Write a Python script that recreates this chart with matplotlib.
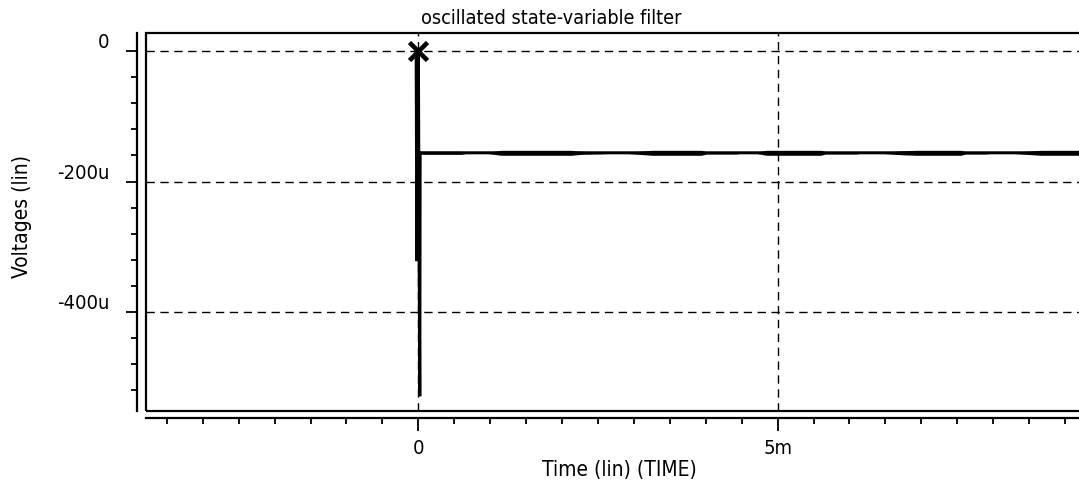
import numpy as np
import matplotlib
matplotlib.use('Agg')
import matplotlib.pyplot as plt
from matplotlib.patches import Rectangle
from matplotlib.ticker import FixedLocator, MultipleLocator

plt.rcParams['font.family'] = ['DejaVu Sans']
plt.rcParams['font.stretch'] = 'condensed'

# transient at t = 0 (time in ms, voltage in uV)
spike_t = [-0.03, -0.02, 0.0, 0.02, 0.025, 0.05, 9.4]
spike_v = [0, -322, 0, -529, -156, -156, -156]

# ripple envelope after settling (half-amplitude in uV)
env_t = [0.05, 0.60, 0.67, 0.95, 1.15, 2.13, 2.27, 2.55, 2.69, 2.88, 3.25, 3.94, 4.01,
         4.42, 4.49, 4.70, 4.84, 5.60, 5.67, 6.09, 6.16, 6.44, 6.72, 6.93, 7.55, 7.62,
         7.90, 7.97, 8.25, 8.66, 9.4]
env_a = [2.3, 2.3, 0.8, 0.8, 3.8, 3.8, 2.3, 1.5, 0.8, 0.8, 3.8, 3.8, 1.8,
         1.8, 0.8, 0.8, 3.8, 3.8, 1.8, 1.8, 0.8, 0.8, 3.0, 3.8, 3.8, 1.8,
         1.8, 0.8, 0.8, 3.8, 3.8]
baseline = -156

yticks = [0, -200, -400]
ytick_labels = ['0', '-200u', '-400u']
xticks = [0, 5]
xtick_labels = ['0', '5m']

W, H = 1079, 489
fig = plt.figure(figsize=(W / 100, H / 100), dpi=100)
ax = fig.add_axes([146 / W, 1 - 412 / H, 1 - 146 / W, (412 - 34) / H])

ax.set_xlim(-3.79, (1079 - 417) / 72.0)
ax.set_ylim(-551.7, 27.6)

env_t = np.array(env_t)
env_a = np.array(env_a)
ax.fill_between(env_t, baseline - env_a, baseline + env_a, color='black', lw=0)
ax.plot(spike_t, spike_v, color='black', lw=2.2, solid_joinstyle='miter')
ax.plot([0], [0], marker='x', color='black', ms=13, mew=3.3)

# grid
for y in yticks:
    ax.axhline(y, color='black', lw=1.0, ls=(0, (6, 4)), zorder=0)
for x in xticks:
    ax.axvline(x, color='black', lw=1.0, ls=(0, (6, 4)), zorder=0)

# plot box
ax.add_patch(Rectangle((0, 0), 1.05, 1, transform=ax.transAxes, fill=False,
                       lw=1.6, ec='black', clip_on=False, zorder=5))

ax.spines['right'].set_visible(False)
ax.spines['top'].set_visible(False)
ax.spines['left'].set_position(('outward', 6.5))
ax.spines['bottom'].set_position(('outward', 5))
for s in ['left', 'bottom']:
    ax.spines[s].set_linewidth(1.6)

ax.yaxis.set_major_locator(FixedLocator(yticks))
ax.yaxis.set_minor_locator(MultipleLocator(40))
ax.set_yticklabels(ytick_labels)
ax.xaxis.set_major_locator(FixedLocator(xticks))
ax.xaxis.set_minor_locator(MultipleLocator(0.5))
ax.set_xticklabels(xtick_labels)

ax.tick_params(axis='y', which='major', length=8, width=1.3, pad=12, labelsize=14.5)
ax.tick_params(axis='y', which='minor', length=4, width=1.3)
ax.tick_params(axis='x', which='major', length=9.5, width=1.3, pad=5, labelsize=14.5)
ax.tick_params(axis='x', which='minor', length=4.5, width=1.3)
for lab in ax.get_yticklabels():
    lab.set_verticalalignment('bottom')

fig.text(551 / W, 1 - 19 / H, 'oscillated state-variable filter', ha='center', va='center', fontsize=14.2)
fig.text(619 / W, 1 - 470 / H, 'Time (lin) (TIME)', ha='center', va='center', fontsize=15)
fig.text(22 / W, 1 - 217 / H, 'Voltages (lin)', ha='center', va='center', rotation=90, fontsize=15)

fig.savefig('out.png', dpi=100)
